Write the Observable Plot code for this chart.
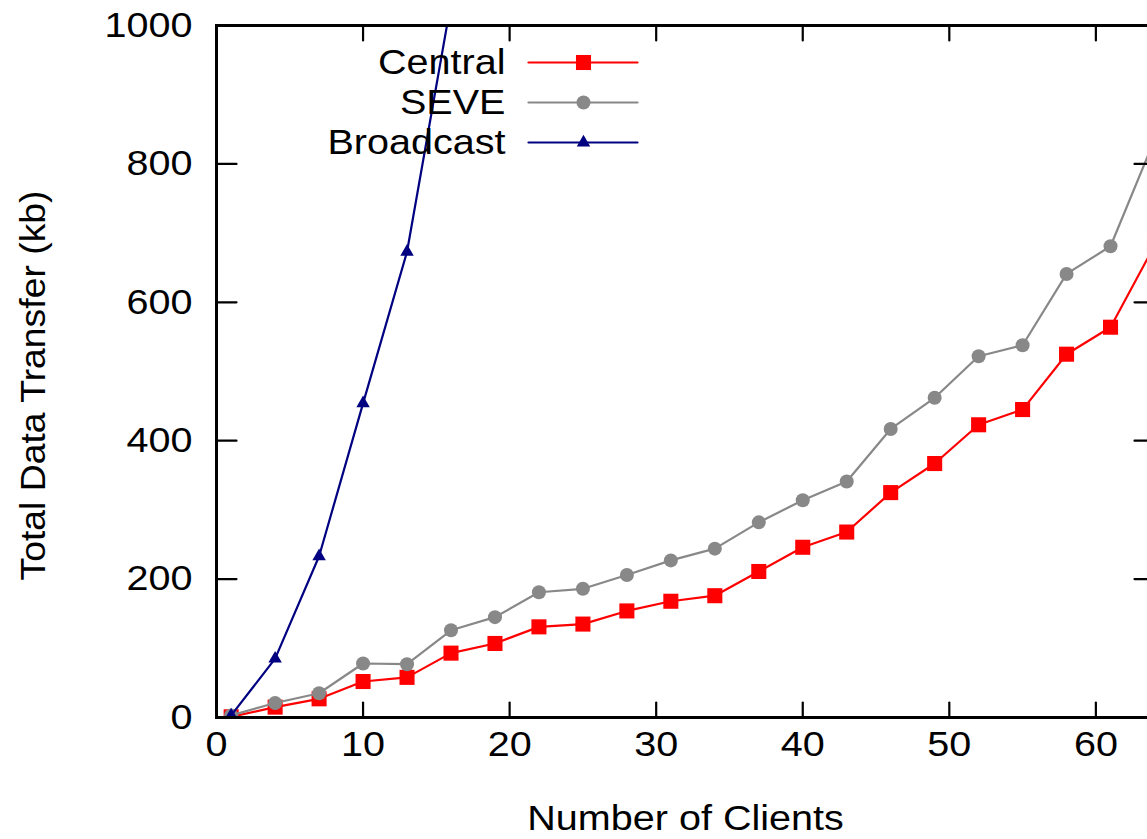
<!DOCTYPE html>
<html>
<head>
<meta charset="utf-8">
<script src="https://cdn.jsdelivr.net/npm/d3@7"></script>
<script src="https://cdn.jsdelivr.net/npm/@observablehq/plot@0.6"></script>
<style>
  html, body { margin: 0; padding: 0; background: #ffffff; overflow: hidden; }
  #chart svg { display: block; }
</style>
</head>
<body>
<div id="chart"></div>
<script>
// ---- data ----
const clients = [1, 4, 7, 10, 13, 16, 19, 22, 25, 28, 31, 34, 37, 40, 43, 46, 49, 52, 55, 58, 61, 64];
const central = [1, 15, 27, 52, 58, 93, 107, 131, 135, 154, 168, 176, 211, 246, 268, 325, 367, 423, 445, 525, 564, 682];
const seve = [3, 21, 35, 78, 77, 126, 145, 181, 186, 206, 227, 244, 282, 314, 341, 417, 462, 522, 538, 641, 681, 835];
const broadcastClients = [1, 4, 7, 10, 13, 16];
const broadcast = [3, 85, 233, 454, 673, 1033];

const xTicks = [0, 10, 20, 30, 40, 50, 60];
const yTicks = [0, 200, 400, 600, 800, 1000];

const seriesNames = ["Central", "SEVE", "Broadcast"];
const seriesColors = ["#ff0000", "#888888", "#000080"];
const seriesSymbols = ["square", "circle", "triangle"];
const seriesRadius = [8.5, 7, 5];

const xTitle = "Number of Clients";
const yTitle = "Total Data Transfer (kb)";

// ---- table built from the arrays ----
const rows = (xs, ys, name) => xs.map((x, i) => ({clients: x, kb: ys[i], series: name}));
const seriesData = [
  rows(clients, central, "Central"),
  rows(clients, seve, "SEVE"),
  rows(broadcastClients, broadcast, "Broadcast")
];

const lineShape = {draw(context, l) { context.moveTo(0, 0); context.lineTo(0, -l); }};

const marks = [];

// series lines and markers
seriesData.forEach((d, i) => {
  marks.push(Plot.line(d, {x: "clients", y: "kb", stroke: seriesColors[i], strokeWidth: 2.2, clip: true}));
  marks.push(Plot.dot(d, {x: "clients", y: "kb", symbol: seriesSymbols[i], fill: seriesColors[i], r: seriesRadius[i], clip: true}));
});

// inward ticks on all four sides
marks.push(Plot.vector(yTicks, {y: d => d, frameAnchor: "left", rotate: 90, length: 20, anchor: "start", shape: lineShape, stroke: "black", strokeWidth: 2.2}));
marks.push(Plot.vector(yTicks, {y: d => d, frameAnchor: "right", rotate: -90, length: 20, anchor: "start", shape: lineShape, stroke: "black", strokeWidth: 2.2}));
marks.push(Plot.vector(xTicks, {x: d => d, frameAnchor: "bottom", rotate: 0, length: 15, anchor: "start", shape: lineShape, stroke: "black", strokeWidth: 2.2}));
marks.push(Plot.vector(xTicks, {x: d => d, frameAnchor: "top", rotate: 180, length: 15, anchor: "start", shape: lineShape, stroke: "black", strokeWidth: 2.2}));

// tick labels
marks.push(Plot.axisX(xTicks, {tickSize: 0, tickPadding: 14, label: null, tickFormat: d => String(d)}));
marks.push(Plot.axisY(yTicks, {tickSize: 0, tickPadding: 24, label: null, tickFormat: d => String(d)}));

// frame
marks.push(Plot.frame({stroke: "black", strokeWidth: 3}));

// axis titles
marks.push(Plot.text([xTitle], {text: d => d, frameAnchor: "bottom", dy: 101, textAnchor: "middle", lineAnchor: "middle", fill: "black"}));
marks.push(Plot.text([yTitle], {text: d => d, frameAnchor: "left", dx: -183, dy: 14, rotate: -90, textAnchor: "middle", lineAnchor: "middle", fill: "black", className: "ytitle"}));

// legend (inside the frame, top)
seriesNames.forEach((name, i) => {
  const dy = 37 + 40 * i;
  marks.push(Plot.text([name], {text: d => d, frameAnchor: "top-left", dx: 289, dy, textAnchor: "end", lineAnchor: "middle", fill: "black"}));
  marks.push(Plot.vector([name], {frameAnchor: "top-left", dx: 312, dy, rotate: 90, length: 109, anchor: "start", shape: lineShape, stroke: seriesColors[i], strokeWidth: 2.2}));
  marks.push(Plot.dot([name], {frameAnchor: "top-left", dx: 367, dy, symbol: seriesSymbols[i], fill: seriesColors[i], r: seriesRadius[i]}));
});

const chart = Plot.plot({
  width: 1147,
  height: 839,
  marginLeft: 216,
  marginRight: -7,
  marginTop: 25,
  marginBottom: 122,
  x: {domain: [0, 64]},
  y: {domain: [0, 1000]},
  style: {fontFamily: "'Liberation Sans', Arial, Helvetica, sans-serif", fontSize: "35px", color: "black", background: "white"},
  marks
});

document.getElementById("chart").appendChild(chart);

// widen the glyphs slightly, like the reference rendering
const stretch = 1.13;
chart.querySelectorAll("text").forEach(t => {
  const g = t.closest(".ytitle");
  const len = t.getComputedTextLength();
  if (!len) return;
  t.setAttribute("textLength", g ? 390 : len * stretch);
  t.setAttribute("lengthAdjust", "spacingAndGlyphs");
});
</script>
</body>
</html>
